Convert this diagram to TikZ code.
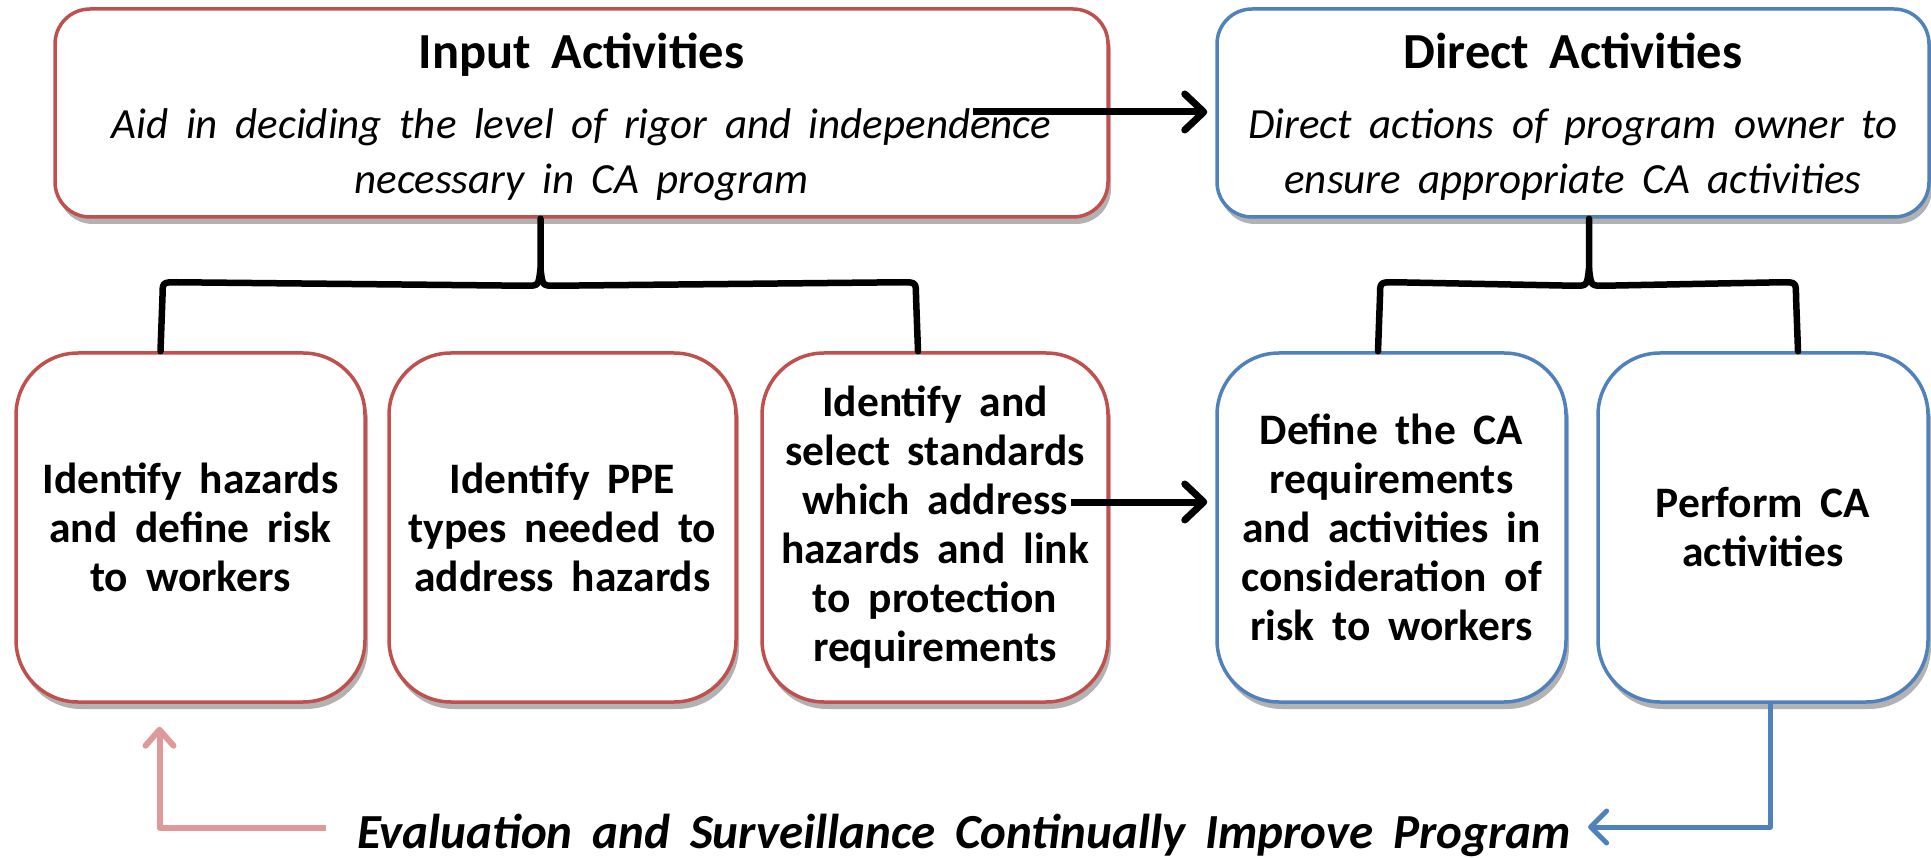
\documentclass[tikz,border=0pt]{standalone}
\usepackage{fontspec}
\setmainfont{Carlito}[WordSpace=1.8]
\usetikzlibrary{arrows.meta,shadows,calc}
\definecolor{cred}{HTML}{C0504D}
\definecolor{cblue}{HTML}{4F81BD}
\definecolor{cpink}{HTML}{DE9A9A}
\tikzset{
 box/.style={draw, line width=3.5pt, fill=white, align=center, inner sep=0pt,
   drop shadow={shadow xshift=3pt, shadow yshift=-7pt, opacity=0.3, fill=black}},
 topbox/.style={box, rounded corners=35pt, minimum height=208pt},
 lowbox/.style={box, rounded corners=62pt, minimum height=349pt, font=\fontsize{43.5}{49}\selectfont\bfseries},
 redbox/.style={draw=cred},
 bluebox/.style={draw=cblue},
 titletext/.style={anchor=base, inner sep=0pt, font=\fontsize{50.5}{60}\selectfont\bfseries},
 bodytext/.style={anchor=base, inner sep=0pt, font=\fontsize{43}{55}\selectfont\itshape},
 brace/.style={line width=6.5pt, line join=round, line cap=round},
 arr/.style={line width=7pt, -{Straight Barb[length=19pt,width=36pt,round]}},
}
\begin{document}
\begin{tikzpicture}[x=1pt,y=-1pt]
\useasboundingbox (0,0) rectangle (1931,858);

% top boxes
\node[topbox, redbox, minimum width=1053pt] (input) at (581.5,113) {};
\node[titletext] (inputtitle) at ($(input.north)+(0,61)$) {Input Activities};
\node[bodytext] (inputl1) at ($(input.north)+(0,131)$) {Aid in deciding the level of rigor and independence};
\node[bodytext] (inputl2) at ($(input.north)+(0,186)$) {necessary in CA program};

\node[topbox, bluebox, minimum width=712pt] (direct) at (1573,113) {};
\node[titletext] (directtitle) at ($(direct.north)+(0,61)$) {Direct Activities};
\node[bodytext] (directl1) at ($(direct.north)+(0,131)$) {Direct actions of program owner to};
\node[bodytext] (directl2) at ($(direct.north)+(0,186)$) {ensure appropriate CA activities};

% bottom boxes
\node[lowbox, redbox, minimum width=349pt] (b1) at (190.5,527.5)
 {Identify hazards\\ and define risk\\ to workers};
\node[lowbox, redbox, minimum width=347pt] (b2) at (562.5,527.5)
 {Identify PPE\\ types needed to\\ address hazards};
\node[lowbox, redbox, minimum width=346pt] (b3) at (935,527.5)
 {Identify and\\ select standards\\ which address\\ hazards and link\\ to protection\\ requirements};
\node[lowbox, bluebox, minimum width=349pt] (b4) at (1391.5,527.5)
 {Define the CA\\ requirements\\ and activities in\\ consideration of\\ risk to workers};
\node[lowbox, bluebox, minimum width=330pt] (b5) at (1763,527.5)
 {Perform CA\\ activities};

% braces
\coordinate (ip) at ($(input.south)+(-41,0)$);
\coordinate (il) at ($(b1.north)+(-30,0)$);
\coordinate (ir) at ($(b3.north)+(-17,0)$);
\draw[brace] (il) -- ($(il)+(2,-55)$) .. controls ($(il)+(2,-69)$) .. ($(il)+(16,-69)$)
  -- ($(ip)+(-14,67)$) .. controls ($(ip)+(-2,67)$) .. ($(ip)+(0,50)$) -- (ip);
\draw[brace] (ir) -- ($(ir)+(-2,-55)$) .. controls ($(ir)+(-2,-69)$) .. ($(ir)+(-16,-69)$)
  -- ($(ip)+(14,67)$) .. controls ($(ip)+(2,67)$) .. ($(ip)+(0,50)$);

\coordinate (dp) at ($(direct.south)+(16,0)$);
\coordinate (dl) at ($(b4.north)+(-13.5,0)$);
\coordinate (dr) at ($(b5.north)+(35,0)$);
\draw[brace] (dl) -- ($(dl)+(2,-55)$) .. controls ($(dl)+(2,-69)$) .. ($(dl)+(16,-69)$)
  -- ($(dp)+(-14,67)$) .. controls ($(dp)+(-2,67)$) .. ($(dp)+(0,50)$) -- (dp);
\draw[brace] (dr) -- ($(dr)+(-2,-55)$) .. controls ($(dr)+(-2,-69)$) .. ($(dr)+(-16,-69)$)
  -- ($(dp)+(14,67)$) .. controls ($(dp)+(2,67)$) .. ($(dp)+(0,50)$);

% arrows
\coordinate (a1) at (973,112);
\draw[arr] (a1) -- ($(direct.west |- a1)+(-8,0)$);
\coordinate (a2) at (1071,502);
\draw[arr] (a2) -- ($(b4.west |- a2)+(-8,0)$);

% evaluation loop
\node[anchor=base, inner sep=0pt, font=\fontsize{49}{58}\selectfont\bfseries\itshape] (evalt) at (964,848)
 {Evaluation and Surveillance Continually Improve Program};
\coordinate (bl) at ($(b5.south)+(7,0)$);
\coordinate (bt) at ($(evalt.east |- 0,827)+(17,0)$);
\draw[cblue, line width=5pt, line join=round, -{Straight Barb[length=16pt,width=32pt,round]}] (bl) |- (bt);
\coordinate (pk) at ($(evalt.west |- 0,828)+(-31,0)$);
\coordinate (pt) at ($(b1.south)+(-31,23)$);
\draw[cpink, line width=6pt, line join=round, -{Straight Barb[length=16pt,width=28pt,round]}] (pk) -| (pt);
\end{tikzpicture}
\end{document}
